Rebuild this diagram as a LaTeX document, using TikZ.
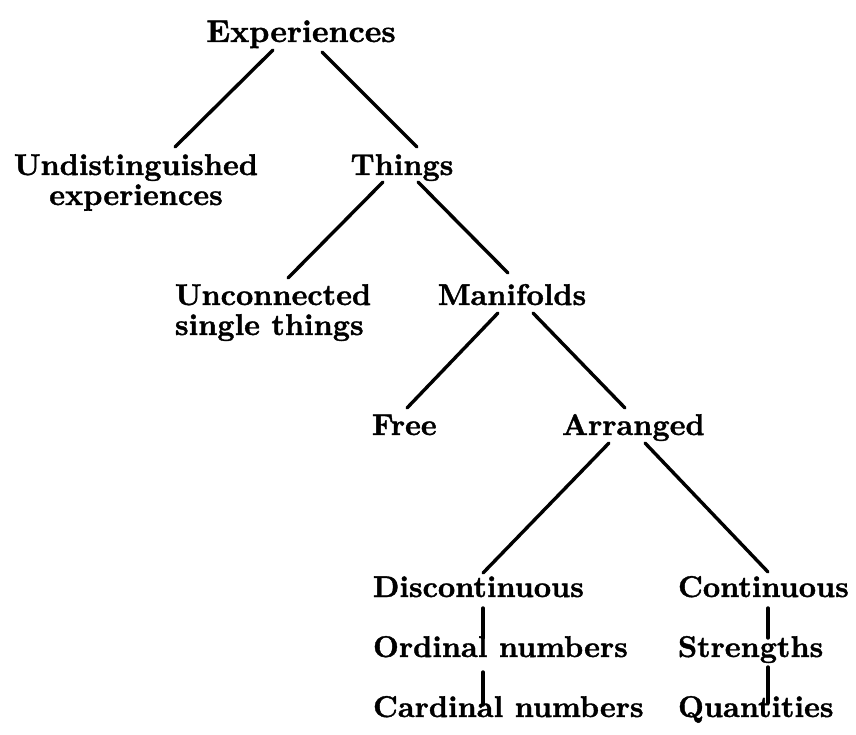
\documentclass[tikz,border=0pt]{standalone}
\usepackage{fontspec}
\setmainfont{lmroman10-regular.otf}[BoldFont=lmroman10-bold.otf, BoldFeatures={FakeBold=1.3}]
\usetikzlibrary{calc}
\tikzset{
  lbl/.style={inner sep=0pt, outer sep=0pt, font=\fontsize{30}{30}\selectfont\bfseries},
  edge/.style={line width=3.4pt, line cap=round}
}
\begin{document}
\begin{tikzpicture}[x=1pt,y=-1pt]
\useasboundingbox (0,0) rectangle (856,735);
% nodes
\node[lbl, anchor=base, font=\fontsize{31.5}{30}\selectfont\bfseries] (exp) at (301,42) {Experiences};
\node[lbl, anchor=base] (und) at (136,175) {\begin{tabular}[t]{@{}c@{}}Undistinguished\\experiences\end{tabular}};
\node[lbl, anchor=base] (thi) at (402,175) {Things};
\node[lbl, anchor=base west] (unc) at (175,305) {\begin{tabular}[t]{@{}l@{}}Unconnected\\single things\end{tabular}};
\node[lbl, anchor=base] (man) at (512,305) {Manifolds};
\node[lbl, anchor=base west] (fre) at (372,435) {Free};
\node[lbl, anchor=base west] (arr) at (562,435) {Arranged};
\node[lbl, anchor=base west] (dis) at (373,597) {Discontinuous};
\node[lbl, anchor=base west] (ord) at (373,657) {Ordinal numbers};
\node[lbl, anchor=base west] (car) at (373,717) {Cardinal numbers};
\node[lbl, anchor=base west] (con) at (678,597) {Continuous};
\node[lbl, anchor=base west] (str) at (678,657) {Strengths};
\node[lbl, anchor=base west] (qua) at (678,717) {Quantities};
% connectors
\draw[edge] ($(exp.base)+(-28,8)$) -- ($(und.base)+(39,-28)$);
\draw[edge] ($(exp.base)+(21,10)$) -- ($(thi.base)+(15,-28)$);
\draw[edge] ($(thi.base)+(-19,7)$) -- ($(unc.base west)+(113,-27)$);
\draw[edge] ($(thi.base)+(16,7)$) -- ($(man.base)+(-4,-32)$);
\draw[edge] ($(man.base)+(-14,8)$) -- ($(fre.base west)+(35,-27)$);
\draw[edge] ($(man.base)+(21,8)$) -- ($(arr.base west)+(63,-27)$);
\draw[edge] ($(arr.base west)+(47,8)$) -- ($(dis.base west)+(110,-24)$);
\draw[edge] ($(arr.base west)+(83,8)$) -- ($(con.base west)+(90,-25)$);
\draw[edge] ($(dis.base west)+(110,11)$) -- ($(ord.base west)+(110,-19)$);
\draw[edge] ($(ord.base west)+(110,15)$) -- ($(car.base west)+(110,-12)$);
\draw[edge] ($(con.base west)+(90,11)$) -- ($(str.base west)+(90,-19)$);
\draw[edge] ($(str.base west)+(90,10)$) -- ($(qua.base west)+(90,-14)$);
\end{tikzpicture}
\end{document}
